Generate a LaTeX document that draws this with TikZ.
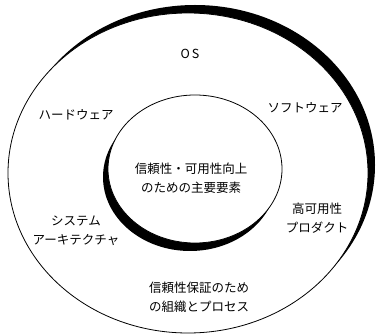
\documentclass[tikz,border=0pt]{standalone}
\usepackage{fontspec}
\newfontfamily\jpfont{Noto Sans CJK JP}
\begin{document}
\begin{tikzpicture}[x=1pt,y=-1pt,line width=0.8pt,
	font=\jpfont\fontsize{12.5}{19}\selectfont,
	label/.style={align=center,inner sep=0pt}]
	\useasboundingbox (0,0) rectangle (377,336);
	% outer ring, shadow to the upper right
	\fill[black] (195,165) ellipse (180 and 160);
	\filldraw[fill=white,draw=black] (188,173) ellipse (180 and 160);
	% inner ring, shadow to the lower left
	\fill[black] (190,177) ellipse (87 and 74);
	\filldraw[fill=white,draw=black] (195,169) ellipse (87 and 74);
	\node[label] (os) at (190,54) {O\,S};
	\node[label] (hw) at (76,115) {ハードウェア};
	\node[label] (sw) at (305,108) {ソフトウェア};
	\node[label] (core) at (191,178) {信頼性・可用性向上\\のための主要要素};
	\node[label] (hap) at (317,218) {高可用性\\プロダクト};
	\node[label] (arch) at (76,231) {システム\\アーキテクチャ};
	\node[label,align=left] (org) at (199,297) {信頼性保証のため\\の組織とプロセス};
\end{tikzpicture}
\end{document}
